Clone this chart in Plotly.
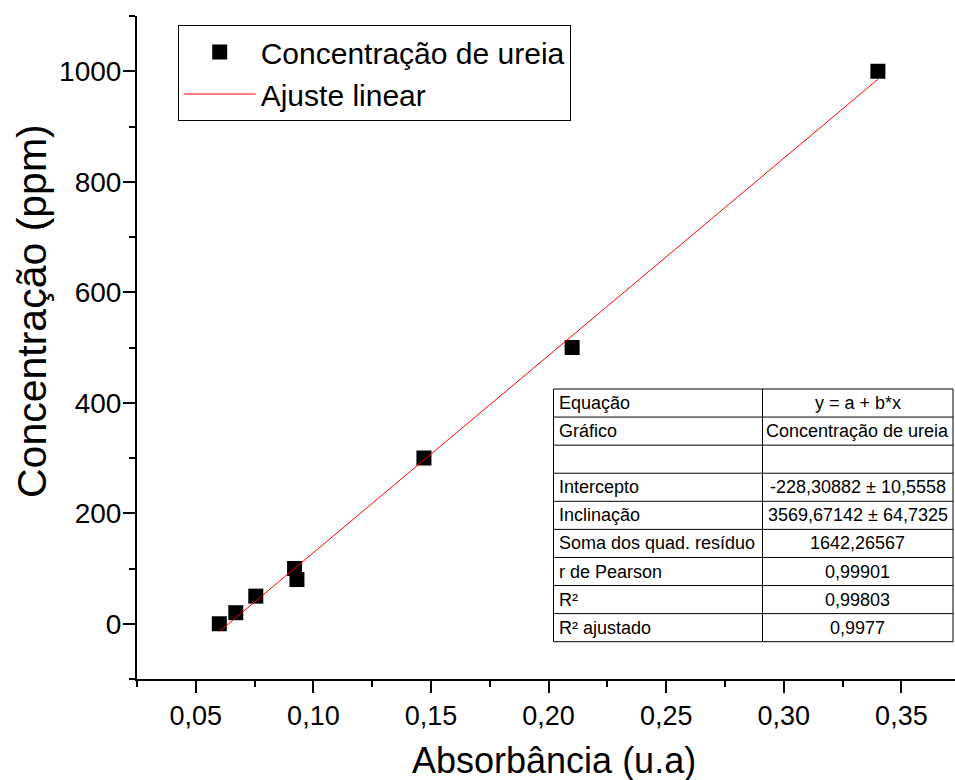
import plotly.graph_objects as go

# ---- data ----
absorbancia = [0.060, 0.067, 0.0755, 0.092, 0.093, 0.147, 0.210, 0.340]
concentracao = [0, 20, 50, 100, 80, 300, 500, 1000]

intercepto = -228.30882
inclinacao = 3569.67142

x_tick_vals = [0.05, 0.10, 0.15, 0.20, 0.25, 0.30, 0.35]
y_tick_vals = [0, 200, 400, 600, 800, 1000]

tabela_rotulos = ["Equação", "Gráfico", "", "Intercepto", "Inclinação",
                  "Soma dos quad. resíduo", "r de Pearson", "R²", "R² ajustado"]
tabela_valores = ["y = a + b*x", "Concentração de ureia", "",
                  "-228,30882 ± 10,5558", "3569,67142 ± 64,7325",
                  "1642,26567", "0,99901", "0,99803", "0,9977"]

# ---- layout geometry (pixels) ----
W, H = 955, 780
L, R, T, B = 137, 0, 16, 101
PW = W - L - R
PH = H - T - B
FONT = "Arial, Liberation Sans, sans-serif"


def px(xp):
    return (xp - L) / PW


def py(yp):
    return (H - B - yp) / PH


fit_x = [min(absorbancia), max(absorbancia)]
fit_y = [intercepto + inclinacao * v for v in fit_x]

fig = go.Figure()
fig.add_trace(go.Scatter(
    x=absorbancia, y=concentracao, mode="markers",
    name="Concentração de ureia",
    marker=dict(symbol="square", size=15, color="black", line=dict(width=0)),
))
fig.add_trace(go.Scatter(
    x=fit_x, y=fit_y, mode="lines", name="Ajuste linear",
    line=dict(color="#ff0000", width=1),
))

shapes = []
annotations = []

# table
tx0, tx1, txm = 553.5, 953, 762.5
ty0, ty1 = 389, 641.7
nrows = len(tabela_rotulos)
rh = (ty1 - ty0) / nrows
shapes.append(dict(type="rect", xref="paper", yref="paper",
                   x0=px(tx0), x1=px(tx1), y0=py(ty1), y1=py(ty0),
                   fillcolor="white", line=dict(color="black", width=1),
                   layer="above"))
shapes.append(dict(type="line", xref="paper", yref="paper",
                   x0=px(txm), x1=px(txm), y0=py(ty1), y1=py(ty0),
                   line=dict(color="black", width=1), layer="above"))
for i in range(1, nrows):
    yy = ty0 + i * rh
    shapes.append(dict(type="line", xref="paper", yref="paper",
                       x0=px(tx0), x1=px(tx1), y0=py(yy), y1=py(yy),
                       line=dict(color="black", width=1), layer="above"))
for i, (lab, val) in enumerate(zip(tabela_rotulos, tabela_valores)):
    yc = ty0 + (i + 0.5) * rh
    if lab:
        annotations.append(dict(x=px(tx0 + 3), y=py(yc), xref="paper", yref="paper",
                                text=lab, showarrow=False, xanchor="left",
                                yanchor="middle", font=dict(family=FONT, size=18, color="black")))
    if val:
        annotations.append(dict(x=px((txm + tx1) / 2), y=py(yc), xref="paper", yref="paper",
                                text=val, showarrow=False, xanchor="center",
                                yanchor="middle", font=dict(family=FONT, size=18, color="black")))

# axis titles
annotations.append(dict(x=px(554), y=py(760), xref="paper", yref="paper",
                        text="Absorbância (u.a)", showarrow=False,
                        xanchor="center", yanchor="middle",
                        font=dict(family=FONT, size=36, color="black")))
annotations.append(dict(x=px(32), y=py(311), xref="paper", yref="paper",
                        text="Concentração (ppm)", showarrow=False, textangle=-90,
                        xanchor="center", yanchor="middle",
                        font=dict(family=FONT, size=41, color="black")))

fig.update_layout(
    width=W, height=H,
    margin=dict(l=L, r=R, t=T, b=B, pad=0),
    paper_bgcolor="white", plot_bgcolor="white",
    separators=", ",
    font=dict(family=FONT, color="black"),
    showlegend=True,
    legend=dict(x=px(177.7), y=py(25), xanchor="left", yanchor="top",
                bordercolor="black", borderwidth=1, bgcolor="white",
                font=dict(family=FONT, size=30, color="black"),
                itemwidth=72, tracegroupgap=0),
    shapes=shapes, annotations=annotations,
)

fig.update_xaxes(
    range=[0.025, 0.025 + PW / 2352.0],
    tickvals=x_tick_vals, tickformat=".2f",
    showline=True, linecolor="black", linewidth=2, mirror=False,
    ticks="outside", ticklen=12, tickwidth=2, tickcolor="black",
    minor=dict(dtick=0.025, tick0=0.025, ticks="outside", ticklen=6,
               tickwidth=2, tickcolor="black", showgrid=False),
    showgrid=False, zeroline=False,
    tickfont=dict(family=FONT, size=27, color="black"),
)
fig.update_yaxes(
    range=[-100, 1100],
    tickvals=y_tick_vals,
    showline=True, linecolor="black", linewidth=2, mirror=False,
    ticks="outside", ticklen=12, tickwidth=2, tickcolor="black",
    minor=dict(dtick=100, tick0=-100, ticks="outside", ticklen=6,
               tickwidth=2, tickcolor="black", showgrid=False),
    showgrid=False, zeroline=False,
    ticklabelstandoff=-4,
    tickfont=dict(family=FONT, size=28, color="black"),
)

fig.write_html("out.html")
